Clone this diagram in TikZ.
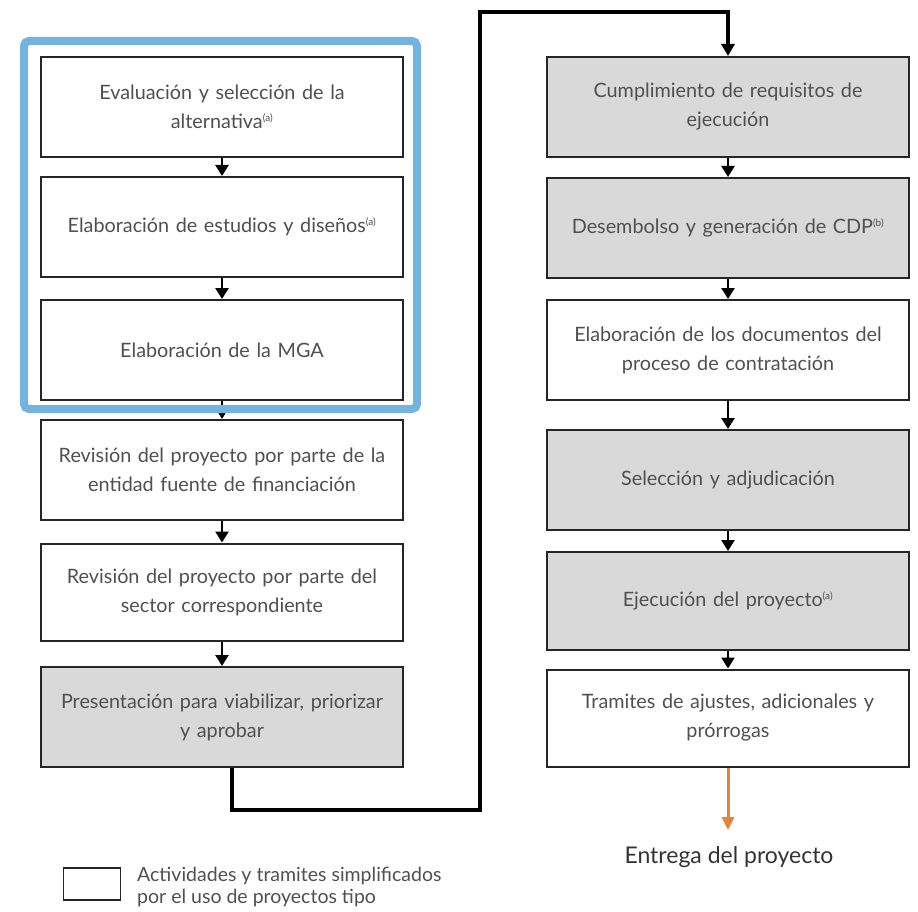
\documentclass[tikz,border=0pt]{standalone}
\usepackage{fontspec}
\setmainfont{Lato}
\usetikzlibrary{arrows.meta,positioning}
\definecolor{boxgray}{HTML}{D9D9D9}
\definecolor{txtgray}{HTML}{505050}
\definecolor{blueframe}{HTML}{74B3E0}
\definecolor{orangearr}{HTML}{E8823A}
\begin{document}
\begin{tikzpicture}[x=1pt,y=-1pt,
  stepbox/.style={draw=black!85,line width=2pt,minimum width=362pt,minimum height=100pt,
    align=center,text width=350pt,font=\fontsize{19.8}{29}\selectfont,text=txtgray,inner sep=0pt},
  graybox/.style={stepbox,fill=boxgray},
  whitebox/.style={stepbox,fill=white},
  flow/.style={line width=2.5pt,-{Triangle[length=11pt,width=13pt]}},
  bigflow/.style={line width=4.5pt,-{Triangle[length=12pt,width=13pt]}}]
\useasboundingbox (0,0) rectangle (918,912);
\newcommand{\supa}{\textsuperscript{\fontsize{10}{10}\selectfont(a)}}
\newcommand{\supb}{\textsuperscript{\fontsize{10}{10}\selectfont(b)}}
% left column
\node[whitebox] (l1) at (222,107) {Evaluación y selección de la\\alternativa\supa};
\node[whitebox] (l2) at (222,227) {Elaboración de estudios y diseños\supa};
\node[whitebox] (l3) at (222,350) {Elaboración de la MGA};
\node[whitebox] (l4) at (222,470) {Revisión del proyecto por parte de la\\entidad fuente de financiación};
\node[whitebox,minimum height=97pt] (l5) at (222,592) {Revisión del proyecto por parte del\\sector correspondiente};
\node[graybox] (l6) at (222,717) {Presentación para viabilizar, priorizar\\y aprobar};
% right column
\node[graybox] (r1) at (728,107) {Cumplimiento de requisitos de\\ejecución};
\node[graybox] (r2) at (728,228) {Desembolso y generación de CDP\supb};
\node[whitebox] (r3) at (728,350) {Elaboración de los documentos del\\proceso de contratación};
\node[graybox] (r4) at (728,480) {Selección y adjudicación};
\node[graybox,minimum height=98pt] (r5) at (728,601) {Ejecución del proyecto\supa};
\node[whitebox,minimum height=97pt] (r6) at (728,718) {Tramites de ajustes, adicionales y\\prórrogas};
\node[font=\fontsize{23}{26}\selectfont,text=black!80] (end) at (729,857) {Entrega del proyecto};
\coordinate (eend) at (728,830);
% arrows
\draw[flow] (l1) -- (l2);
\draw[flow] (l2) -- (l3);
\draw[flow] (l3) -- (l4);
\draw[flow] (l4) -- (l5);
\draw[flow] (l5) -- (l6);
\draw[flow] (r1) -- (r2);
\draw[flow] (r2) -- (r3);
\draw[flow] (r3) -- (r4);
\draw[flow] (r4) -- (r5);
\draw[flow] (r5) -- (r6);
\draw[line width=3pt,draw=orangearr,-{Triangle[length=13pt,width=12pt]}] (r6.south) -- (eend);
\coordinate (c1) at (232,810);
\coordinate (c2) at (480,810);
\coordinate (c3) at (480,12);
\coordinate (c4) at (728,12);
\draw[bigflow] (l6.south -| c1) -- (c1) -- (c2) -- (c3) -- (c4) -- (r1.north);
% blue frame
\draw[blueframe,line width=8pt,rounded corners=5pt] (24,41) rectangle (417,409);
% legend
\node[draw=black!85,line width=1.5pt,fill=white,minimum width=57pt,minimum height=32pt,inner sep=0pt] (leg) at (92,884) {};
\node[anchor=west,align=left,font=\fontsize{19.5}{22}\selectfont,text=txtgray,inner sep=0pt] (legt) at (137,887) {Actividades y tramites simplificados\\por el uso de proyectos tipo};
\end{tikzpicture}
\end{document}
